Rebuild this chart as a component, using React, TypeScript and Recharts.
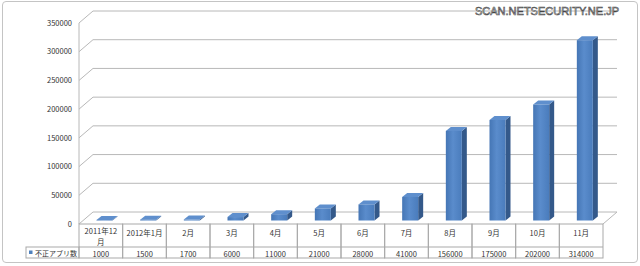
import { Bar, BarChart, CartesianGrid, XAxis, YAxis } from "recharts";

const categories = ["2011年12月", "2012年1月", "2月", "3月", "4月", "5月", "6月", "7月", "8月", "9月", "10月", "11月"];
const values = [1000, 1500, 1700, 6000, 11000, 21000, 28000, 41000, 156000, 175000, 202000, 314000];
const yTicks = [0, 50000, 100000, 150000, 200000, 250000, 300000, 350000];
const seriesName = "不正アプリ数";

const data = categories.map((name, i) => ({ name, value: values[i] }));

// layout
const W = 640;
const H = 266;
const PLOT_LEFT = 79;
const PLOT_RIGHT = 603;
const PLOT_TOP = 23;
const PLOT_BOTTOM = 224;
const COL_W = (PLOT_RIGHT - PLOT_LEFT) / categories.length;
const DX = 14; // wall depth
const DY = 12;
const ROW1 = 23;
const ROW2 = 11;
const LEGEND_W = 53;

const GRID = "#b8b8b8";
const TABLE = "#a9a9a9";
const TEXT = "#333";
const FONT = "'Noto Sans CJK JP', 'Noto Sans', sans-serif";

function gridLine(props: any) {
  const { x1, x2, y1 } = props;
  const d =
    y1 >= PLOT_BOTTOM - 0.5
      ? `M${x1},${y1} L${x1 + DX},${y1 - DY} L${x2 + DX},${y1 - DY} L${x2},${y1}`
      : `M${x1},${y1} L${x1 + DX},${y1 - DY} L${x2 + DX},${y1 - DY}`;
  return <path key={`g-${y1}`} d={d} fill="none" stroke={GRID} strokeWidth={1} />;
}

function Bar3D(props: any) {
  const { x, y, width, height } = props;
  if (!height || height <= 0) return null;
  const fx = x + 3.5;
  const fy = y - 3.5;
  const dx = 5;
  const dy = 4;
  return (
    <g>
      <path
        d={`M${fx + width},${fy} L${fx + width + dx},${fy - dy} L${fx + width + dx},${fy + height - dy} L${fx + width},${fy + height} Z`}
        fill="#34598a"
      />
      <path
        d={`M${fx},${fy} L${fx + dx},${fy - dy} L${fx + width + dx},${fy - dy} L${fx + width},${fy} Z`}
        fill="#5f8fcd"
      />
      <rect x={fx} y={fy} width={width} height={height} fill="url(#barFront)" />
    </g>
  );
}

function TableCell(props: any) {
  const { x, payload, index } = props;
  const label: string = payload.value;
  const left = x - COL_W / 2;
  const top = PLOT_BOTTOM;
  const lines = label.length >= 8 ? [label.slice(0, -1), label.slice(-1)] : [label];
  return (
    <g fontFamily={FONT} fontSize={7.5} fill={TEXT}>
      <rect x={left} y={top} width={COL_W} height={ROW1 + ROW2} fill="none" stroke={TABLE} />
      <line x1={left} x2={left + COL_W} y1={top + ROW1} y2={top + ROW1} stroke={TABLE} />
      {lines.map((ln, i) => (
        <text
          key={i}
          x={x}
          y={lines.length > 1 ? top + 6.5 + i * 10.5 : top + 8}
          textAnchor="middle"
          dominantBaseline="central"
        >
          {ln}
        </text>
      ))}
      <text x={x} y={top + ROW1 + ROW2 / 2 + 0.5} textAnchor="middle" dominantBaseline="central">
        {values[index]}
      </text>
      {index === 0 && (
        <g>
          <rect x={left - LEGEND_W} y={top + ROW1} width={LEGEND_W} height={ROW2} fill="none" stroke={TABLE} />
          <rect x={left - LEGEND_W + 3} y={top + ROW1 + 3.5} width={3.5} height={3.5} fill="#4f81bd" />
          <text x={left - LEGEND_W + 9} y={top + ROW1 + ROW2 / 2 + 0.5} fontSize={7} dominantBaseline="central">
            {seriesName}
          </text>
        </g>
      )}
    </g>
  );
}

export default function App() {
  return (
    <div style={{ position: "absolute", left: 0, top: 0, width: W, height: H, background: "#fff" }}>
      <div
        style={{
          position: "absolute",
          left: 2,
          top: 1,
          width: 634,
          height: 260,
          border: "1px solid #c4c4c4",
          borderRadius: 4,
        }}
      />
      <BarChart
        width={W}
        height={H}
        data={data}
        margin={{ top: PLOT_TOP, right: W - PLOT_RIGHT, bottom: 0, left: 0 }}
        barCategoryGap={0}
      >
        <defs>
          <linearGradient id="barFront" x1="0" y1="0" x2="1" y2="0">
            <stop offset="0" stopColor="#4576b5" />
            <stop offset="0.45" stopColor="#5a8ccc" />
            <stop offset="1" stopColor="#4a7cbc" />
          </linearGradient>
        </defs>
        <CartesianGrid vertical={false} horizontal={gridLine} />
        <YAxis
          width={PLOT_LEFT}
          domain={[0, 350000]}
          ticks={yTicks}
          interval={0}
          tickLine={false}
          tickSize={5}
          tickMargin={2}
          axisLine={{ stroke: GRID }}
          tick={{ fontSize: 7.5, fill: TEXT, fontFamily: FONT }}
        />
        <XAxis
          dataKey="name"
          height={H - PLOT_BOTTOM}
          interval={0}
          axisLine={false}
          tickLine={false}
          tick={TableCell}
        />
        <Bar dataKey="value" barSize={16} shape={Bar3D} isAnimationActive={false} />
      </BarChart>
      <div
        style={{
          position: "absolute",
          left: 475,
          top: 5,
          fontFamily: "'Liberation Sans', Arial, sans-serif",
          fontSize: 11,
          color: "#fff",
          WebkitTextStroke: "0.6px #444",
          whiteSpace: "nowrap",
        }}
      >
        SCAN.NETSECURITY.NE.JP
      </div>
    </div>
  );
}
